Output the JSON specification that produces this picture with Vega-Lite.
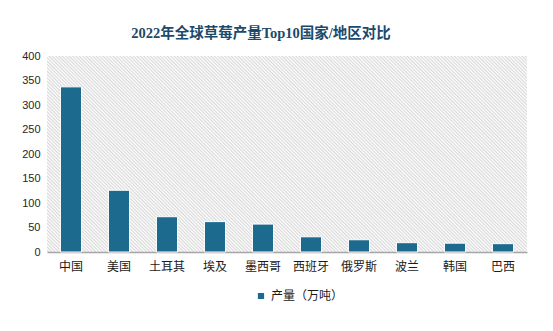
{
  "$schema": "https://vega.github.io/schema/vega-lite/v6.json",
  "autosize": "none",
  "width": 480,
  "height": 196,
  "padding": {"left": 47, "top": 56, "right": 26, "bottom": 79},
  "background": "#ffffff",
  "title": {
    "text": "2022年全球草莓产量Top10国家/地区对比",
    "anchor": "middle",
    "frame": "group",
    "dx": -26,
    "offset": 9,
    "font": "Liberation Serif, Noto Sans CJK SC",
    "fontSize": 14.5,
    "fontWeight": "bold",
    "color": "#1b4a6b"
  },
  "data": {
    "values": [
      {"country": "中国", "output": 337},
      {"country": "美国", "output": 126},
      {"country": "土耳其", "output": 72},
      {"country": "埃及", "output": 62},
      {"country": "墨西哥", "output": 57},
      {"country": "西班牙", "output": 31},
      {"country": "俄罗斯", "output": 25},
      {"country": "波兰", "output": 19},
      {"country": "韩国", "output": 18},
      {"country": "巴西", "output": 17}
    ]
  },
  "mark": {"type": "bar", "stroke": "#ffffff", "strokeWidth": 1},
  "encoding": {
    "x": {
      "field": "country",
      "type": "nominal",
      "sort": null,
      "scale": {"paddingInner": 0.56, "paddingOuter": 0.28},
      "axis": {
        "title": null,
        "labelAngle": 0,
        "ticks": false,
        "labelPadding": 9,
        "domainColor": "#a6a6a6",
        "domainWidth": 1.5,
        "labelFont": "Noto Sans CJK SC",
        "labelFontSize": 12,
        "labelColor": "#1a1a1a"
      }
    },
    "y": {
      "field": "output",
      "type": "quantitative",
      "scale": {"domain": [0, 400]},
      "axis": {
        "title": null,
        "values": [0, 50, 100, 150, 200, 250, 300, 350, 400],
        "grid": false,
        "domain": false,
        "ticks": false,
        "labelPadding": 7,
        "labelFont": "Liberation Sans",
        "labelFontSize": 11,
        "labelColor": "#262626"
      }
    },
    "color": {
      "datum": "产量（万吨）",
      "type": "nominal",
      "scale": {"range": ["#1c6a8e"]},
      "legend": {
        "title": null,
        "orient": "none",
        "legendX": 208,
        "legendY": 234,
        "symbolType": "square",
        "symbolSize": 60,
        "labelFont": "Noto Sans CJK SC",
        "labelFontSize": 12,
        "labelColor": "#1a1a1a"
      }
    }
  },
  "config": {
    "view": {
      "stroke": null,
      "fill": {
        "gradient": "linear",
        "x1": 0, "y1": 1, "x2": 1.207, "y2": 0.5075,
        "stops": [
          {"offset":0,"color":"#fff"},{"offset":0.0025,"color":"#d9d9d9"},{"offset":0.005,"color":"#fff"},{"offset":0.0075,"color":"#d9d9d9"},
          {"offset":0.01,"color":"#fff"},{"offset":0.0125,"color":"#d9d9d9"},{"offset":0.015,"color":"#fff"},{"offset":0.0175,"color":"#d9d9d9"},
          {"offset":0.02,"color":"#fff"},{"offset":0.0225,"color":"#d9d9d9"},{"offset":0.025,"color":"#fff"},{"offset":0.0275,"color":"#d9d9d9"},
          {"offset":0.03,"color":"#fff"},{"offset":0.0325,"color":"#d9d9d9"},{"offset":0.035,"color":"#fff"},{"offset":0.0375,"color":"#d9d9d9"},
          {"offset":0.04,"color":"#fff"},{"offset":0.0425,"color":"#d9d9d9"},{"offset":0.045,"color":"#fff"},{"offset":0.0475,"color":"#d9d9d9"},
          {"offset":0.05,"color":"#fff"},{"offset":0.0525,"color":"#d9d9d9"},{"offset":0.055,"color":"#fff"},{"offset":0.0575,"color":"#d9d9d9"},
          {"offset":0.06,"color":"#fff"},{"offset":0.0625,"color":"#d9d9d9"},{"offset":0.065,"color":"#fff"},{"offset":0.0675,"color":"#d9d9d9"},
          {"offset":0.07,"color":"#fff"},{"offset":0.0725,"color":"#d9d9d9"},{"offset":0.075,"color":"#fff"},{"offset":0.0775,"color":"#d9d9d9"},
          {"offset":0.08,"color":"#fff"},{"offset":0.0825,"color":"#d9d9d9"},{"offset":0.085,"color":"#fff"},{"offset":0.0875,"color":"#d9d9d9"},
          {"offset":0.09,"color":"#fff"},{"offset":0.0925,"color":"#d9d9d9"},{"offset":0.095,"color":"#fff"},{"offset":0.0975,"color":"#d9d9d9"},
          {"offset":0.10,"color":"#fff"},{"offset":0.1025,"color":"#d9d9d9"},{"offset":0.105,"color":"#fff"},{"offset":0.1075,"color":"#d9d9d9"},
          {"offset":0.11,"color":"#fff"},{"offset":0.1125,"color":"#d9d9d9"},{"offset":0.115,"color":"#fff"},{"offset":0.1175,"color":"#d9d9d9"},
          {"offset":0.12,"color":"#fff"},{"offset":0.1225,"color":"#d9d9d9"},{"offset":0.125,"color":"#fff"},{"offset":0.1275,"color":"#d9d9d9"},
          {"offset":0.13,"color":"#fff"},{"offset":0.1325,"color":"#d9d9d9"},{"offset":0.135,"color":"#fff"},{"offset":0.1375,"color":"#d9d9d9"},
          {"offset":0.14,"color":"#fff"},{"offset":0.1425,"color":"#d9d9d9"},{"offset":0.145,"color":"#fff"},{"offset":0.1475,"color":"#d9d9d9"},
          {"offset":0.15,"color":"#fff"},{"offset":0.1525,"color":"#d9d9d9"},{"offset":0.155,"color":"#fff"},{"offset":0.1575,"color":"#d9d9d9"},
          {"offset":0.16,"color":"#fff"},{"offset":0.1625,"color":"#d9d9d9"},{"offset":0.165,"color":"#fff"},{"offset":0.1675,"color":"#d9d9d9"},
          {"offset":0.17,"color":"#fff"},{"offset":0.1725,"color":"#d9d9d9"},{"offset":0.175,"color":"#fff"},{"offset":0.1775,"color":"#d9d9d9"},
          {"offset":0.18,"color":"#fff"},{"offset":0.1825,"color":"#d9d9d9"},{"offset":0.185,"color":"#fff"},{"offset":0.1875,"color":"#d9d9d9"},
          {"offset":0.19,"color":"#fff"},{"offset":0.1925,"color":"#d9d9d9"},{"offset":0.195,"color":"#fff"},{"offset":0.1975,"color":"#d9d9d9"},
          {"offset":0.20,"color":"#fff"},{"offset":0.2025,"color":"#d9d9d9"},{"offset":0.205,"color":"#fff"},{"offset":0.2075,"color":"#d9d9d9"},
          {"offset":0.21,"color":"#fff"},{"offset":0.2125,"color":"#d9d9d9"},{"offset":0.215,"color":"#fff"},{"offset":0.2175,"color":"#d9d9d9"},
          {"offset":0.22,"color":"#fff"},{"offset":0.2225,"color":"#d9d9d9"},{"offset":0.225,"color":"#fff"},{"offset":0.2275,"color":"#d9d9d9"},
          {"offset":0.23,"color":"#fff"},{"offset":0.2325,"color":"#d9d9d9"},{"offset":0.235,"color":"#fff"},{"offset":0.2375,"color":"#d9d9d9"},
          {"offset":0.24,"color":"#fff"},{"offset":0.2425,"color":"#d9d9d9"},{"offset":0.245,"color":"#fff"},{"offset":0.2475,"color":"#d9d9d9"},
          {"offset":0.25,"color":"#fff"},{"offset":0.2525,"color":"#d9d9d9"},{"offset":0.255,"color":"#fff"},{"offset":0.2575,"color":"#d9d9d9"},
          {"offset":0.26,"color":"#fff"},{"offset":0.2625,"color":"#d9d9d9"},{"offset":0.265,"color":"#fff"},{"offset":0.2675,"color":"#d9d9d9"},
          {"offset":0.27,"color":"#fff"},{"offset":0.2725,"color":"#d9d9d9"},{"offset":0.275,"color":"#fff"},{"offset":0.2775,"color":"#d9d9d9"},
          {"offset":0.28,"color":"#fff"},{"offset":0.2825,"color":"#d9d9d9"},{"offset":0.285,"color":"#fff"},{"offset":0.2875,"color":"#d9d9d9"},
          {"offset":0.29,"color":"#fff"},{"offset":0.2925,"color":"#d9d9d9"},{"offset":0.295,"color":"#fff"},{"offset":0.2975,"color":"#d9d9d9"},
          {"offset":0.30,"color":"#fff"},{"offset":0.3025,"color":"#d9d9d9"},{"offset":0.305,"color":"#fff"},{"offset":0.3075,"color":"#d9d9d9"},
          {"offset":0.31,"color":"#fff"},{"offset":0.3125,"color":"#d9d9d9"},{"offset":0.315,"color":"#fff"},{"offset":0.3175,"color":"#d9d9d9"},
          {"offset":0.32,"color":"#fff"},{"offset":0.3225,"color":"#d9d9d9"},{"offset":0.325,"color":"#fff"},{"offset":0.3275,"color":"#d9d9d9"},
          {"offset":0.33,"color":"#fff"},{"offset":0.3325,"color":"#d9d9d9"},{"offset":0.335,"color":"#fff"},{"offset":0.3375,"color":"#d9d9d9"},
          {"offset":0.34,"color":"#fff"},{"offset":0.3425,"color":"#d9d9d9"},{"offset":0.345,"color":"#fff"},{"offset":0.3475,"color":"#d9d9d9"},
          {"offset":0.35,"color":"#fff"},{"offset":0.3525,"color":"#d9d9d9"},{"offset":0.355,"color":"#fff"},{"offset":0.3575,"color":"#d9d9d9"},
          {"offset":0.36,"color":"#fff"},{"offset":0.3625,"color":"#d9d9d9"},{"offset":0.365,"color":"#fff"},{"offset":0.3675,"color":"#d9d9d9"},
          {"offset":0.37,"color":"#fff"},{"offset":0.3725,"color":"#d9d9d9"},{"offset":0.375,"color":"#fff"},{"offset":0.3775,"color":"#d9d9d9"},
          {"offset":0.38,"color":"#fff"},{"offset":0.3825,"color":"#d9d9d9"},{"offset":0.385,"color":"#fff"},{"offset":0.3875,"color":"#d9d9d9"},
          {"offset":0.39,"color":"#fff"},{"offset":0.3925,"color":"#d9d9d9"},{"offset":0.395,"color":"#fff"},{"offset":0.3975,"color":"#d9d9d9"},
          {"offset":0.40,"color":"#fff"},{"offset":0.4025,"color":"#d9d9d9"},{"offset":0.405,"color":"#fff"},{"offset":0.4075,"color":"#d9d9d9"},
          {"offset":0.41,"color":"#fff"},{"offset":0.4125,"color":"#d9d9d9"},{"offset":0.415,"color":"#fff"},{"offset":0.4175,"color":"#d9d9d9"},
          {"offset":0.42,"color":"#fff"},{"offset":0.4225,"color":"#d9d9d9"},{"offset":0.425,"color":"#fff"},{"offset":0.4275,"color":"#d9d9d9"},
          {"offset":0.43,"color":"#fff"},{"offset":0.4325,"color":"#d9d9d9"},{"offset":0.435,"color":"#fff"},{"offset":0.4375,"color":"#d9d9d9"},
          {"offset":0.44,"color":"#fff"},{"offset":0.4425,"color":"#d9d9d9"},{"offset":0.445,"color":"#fff"},{"offset":0.4475,"color":"#d9d9d9"},
          {"offset":0.45,"color":"#fff"},{"offset":0.4525,"color":"#d9d9d9"},{"offset":0.455,"color":"#fff"},{"offset":0.4575,"color":"#d9d9d9"},
          {"offset":0.46,"color":"#fff"},{"offset":0.4625,"color":"#d9d9d9"},{"offset":0.465,"color":"#fff"},{"offset":0.4675,"color":"#d9d9d9"},
          {"offset":0.47,"color":"#fff"},{"offset":0.4725,"color":"#d9d9d9"},{"offset":0.475,"color":"#fff"},{"offset":0.4775,"color":"#d9d9d9"},
          {"offset":0.48,"color":"#fff"},{"offset":0.4825,"color":"#d9d9d9"},{"offset":0.485,"color":"#fff"},{"offset":0.4875,"color":"#d9d9d9"},
          {"offset":0.49,"color":"#fff"},{"offset":0.4925,"color":"#d9d9d9"},{"offset":0.495,"color":"#fff"},{"offset":0.4975,"color":"#d9d9d9"},
          {"offset":0.50,"color":"#fff"},{"offset":0.5025,"color":"#d9d9d9"},{"offset":0.505,"color":"#fff"},{"offset":0.5075,"color":"#d9d9d9"},
          {"offset":0.51,"color":"#fff"},{"offset":0.5125,"color":"#d9d9d9"},{"offset":0.515,"color":"#fff"},{"offset":0.5175,"color":"#d9d9d9"},
          {"offset":0.52,"color":"#fff"},{"offset":0.5225,"color":"#d9d9d9"},{"offset":0.525,"color":"#fff"},{"offset":0.5275,"color":"#d9d9d9"},
          {"offset":0.53,"color":"#fff"},{"offset":0.5325,"color":"#d9d9d9"},{"offset":0.535,"color":"#fff"},{"offset":0.5375,"color":"#d9d9d9"},
          {"offset":0.54,"color":"#fff"},{"offset":0.5425,"color":"#d9d9d9"},{"offset":0.545,"color":"#fff"},{"offset":0.5475,"color":"#d9d9d9"},
          {"offset":0.55,"color":"#fff"},{"offset":0.5525,"color":"#d9d9d9"},{"offset":0.555,"color":"#fff"},{"offset":0.5575,"color":"#d9d9d9"},
          {"offset":0.56,"color":"#fff"},{"offset":0.5625,"color":"#d9d9d9"},{"offset":0.565,"color":"#fff"},{"offset":0.5675,"color":"#d9d9d9"},
          {"offset":0.57,"color":"#fff"},{"offset":0.5725,"color":"#d9d9d9"},{"offset":0.575,"color":"#fff"},{"offset":0.5775,"color":"#d9d9d9"},
          {"offset":0.58,"color":"#fff"},{"offset":0.5825,"color":"#d9d9d9"},{"offset":0.585,"color":"#fff"},{"offset":0.5875,"color":"#d9d9d9"},
          {"offset":0.59,"color":"#fff"},{"offset":0.5925,"color":"#d9d9d9"},{"offset":0.595,"color":"#fff"},{"offset":0.5975,"color":"#d9d9d9"},
          {"offset":0.60,"color":"#fff"},{"offset":0.6025,"color":"#d9d9d9"},{"offset":0.605,"color":"#fff"},{"offset":0.6075,"color":"#d9d9d9"},
          {"offset":0.61,"color":"#fff"},{"offset":0.6125,"color":"#d9d9d9"},{"offset":0.615,"color":"#fff"},{"offset":0.6175,"color":"#d9d9d9"},
          {"offset":0.62,"color":"#fff"},{"offset":0.6225,"color":"#d9d9d9"},{"offset":0.625,"color":"#fff"},{"offset":0.6275,"color":"#d9d9d9"},
          {"offset":0.63,"color":"#fff"},{"offset":0.6325,"color":"#d9d9d9"},{"offset":0.635,"color":"#fff"},{"offset":0.6375,"color":"#d9d9d9"},
          {"offset":0.64,"color":"#fff"},{"offset":0.6425,"color":"#d9d9d9"},{"offset":0.645,"color":"#fff"},{"offset":0.6475,"color":"#d9d9d9"},
          {"offset":0.65,"color":"#fff"},{"offset":0.6525,"color":"#d9d9d9"},{"offset":0.655,"color":"#fff"},{"offset":0.6575,"color":"#d9d9d9"},
          {"offset":0.66,"color":"#fff"},{"offset":0.6625,"color":"#d9d9d9"},{"offset":0.665,"color":"#fff"},{"offset":0.6675,"color":"#d9d9d9"},
          {"offset":0.67,"color":"#fff"},{"offset":0.6725,"color":"#d9d9d9"},{"offset":0.675,"color":"#fff"},{"offset":0.6775,"color":"#d9d9d9"},
          {"offset":0.68,"color":"#fff"},{"offset":0.6825,"color":"#d9d9d9"},{"offset":0.685,"color":"#fff"},{"offset":0.6875,"color":"#d9d9d9"},
          {"offset":0.69,"color":"#fff"},{"offset":0.6925,"color":"#d9d9d9"},{"offset":0.695,"color":"#fff"},{"offset":0.6975,"color":"#d9d9d9"},
          {"offset":0.70,"color":"#fff"},{"offset":0.7025,"color":"#d9d9d9"},{"offset":0.705,"color":"#fff"},{"offset":0.7075,"color":"#d9d9d9"},
          {"offset":0.71,"color":"#fff"},{"offset":0.7125,"color":"#d9d9d9"},{"offset":0.715,"color":"#fff"},{"offset":0.7175,"color":"#d9d9d9"},
          {"offset":0.72,"color":"#fff"},{"offset":0.7225,"color":"#d9d9d9"},{"offset":0.725,"color":"#fff"},{"offset":0.7275,"color":"#d9d9d9"},
          {"offset":0.73,"color":"#fff"},{"offset":0.7325,"color":"#d9d9d9"},{"offset":0.735,"color":"#fff"},{"offset":0.7375,"color":"#d9d9d9"},
          {"offset":0.74,"color":"#fff"},{"offset":0.7425,"color":"#d9d9d9"},{"offset":0.745,"color":"#fff"},{"offset":0.7475,"color":"#d9d9d9"},
          {"offset":0.75,"color":"#fff"},{"offset":0.7525,"color":"#d9d9d9"},{"offset":0.755,"color":"#fff"},{"offset":0.7575,"color":"#d9d9d9"},
          {"offset":0.76,"color":"#fff"},{"offset":0.7625,"color":"#d9d9d9"},{"offset":0.765,"color":"#fff"},{"offset":0.7675,"color":"#d9d9d9"},
          {"offset":0.77,"color":"#fff"},{"offset":0.7725,"color":"#d9d9d9"},{"offset":0.775,"color":"#fff"},{"offset":0.7775,"color":"#d9d9d9"},
          {"offset":0.78,"color":"#fff"},{"offset":0.7825,"color":"#d9d9d9"},{"offset":0.785,"color":"#fff"},{"offset":0.7875,"color":"#d9d9d9"},
          {"offset":0.79,"color":"#fff"},{"offset":0.7925,"color":"#d9d9d9"},{"offset":0.795,"color":"#fff"},{"offset":0.7975,"color":"#d9d9d9"},
          {"offset":0.80,"color":"#fff"},{"offset":0.8025,"color":"#d9d9d9"},{"offset":0.805,"color":"#fff"},{"offset":0.8075,"color":"#d9d9d9"},
          {"offset":0.81,"color":"#fff"},{"offset":0.8125,"color":"#d9d9d9"},{"offset":0.815,"color":"#fff"},{"offset":0.8175,"color":"#d9d9d9"},
          {"offset":0.82,"color":"#fff"},{"offset":0.8225,"color":"#d9d9d9"},{"offset":0.825,"color":"#fff"},{"offset":0.8275,"color":"#d9d9d9"},
          {"offset":0.83,"color":"#fff"},{"offset":0.8325,"color":"#d9d9d9"},{"offset":0.835,"color":"#fff"},{"offset":0.8375,"color":"#d9d9d9"},
          {"offset":0.84,"color":"#fff"},{"offset":0.8425,"color":"#d9d9d9"},{"offset":0.845,"color":"#fff"},{"offset":0.8475,"color":"#d9d9d9"},
          {"offset":0.85,"color":"#fff"},{"offset":0.8525,"color":"#d9d9d9"},{"offset":0.855,"color":"#fff"},{"offset":0.8575,"color":"#d9d9d9"},
          {"offset":0.86,"color":"#fff"},{"offset":0.8625,"color":"#d9d9d9"},{"offset":0.865,"color":"#fff"},{"offset":0.8675,"color":"#d9d9d9"},
          {"offset":0.87,"color":"#fff"},{"offset":0.8725,"color":"#d9d9d9"},{"offset":0.875,"color":"#fff"},{"offset":0.8775,"color":"#d9d9d9"},
          {"offset":0.88,"color":"#fff"},{"offset":0.8825,"color":"#d9d9d9"},{"offset":0.885,"color":"#fff"},{"offset":0.8875,"color":"#d9d9d9"},
          {"offset":0.89,"color":"#fff"},{"offset":0.8925,"color":"#d9d9d9"},{"offset":0.895,"color":"#fff"},{"offset":0.8975,"color":"#d9d9d9"},
          {"offset":0.90,"color":"#fff"},{"offset":0.9025,"color":"#d9d9d9"},{"offset":0.905,"color":"#fff"},{"offset":0.9075,"color":"#d9d9d9"},
          {"offset":0.91,"color":"#fff"},{"offset":0.9125,"color":"#d9d9d9"},{"offset":0.915,"color":"#fff"},{"offset":0.9175,"color":"#d9d9d9"},
          {"offset":0.92,"color":"#fff"},{"offset":0.9225,"color":"#d9d9d9"},{"offset":0.925,"color":"#fff"},{"offset":0.9275,"color":"#d9d9d9"},
          {"offset":0.93,"color":"#fff"},{"offset":0.9325,"color":"#d9d9d9"},{"offset":0.935,"color":"#fff"},{"offset":0.9375,"color":"#d9d9d9"},
          {"offset":0.94,"color":"#fff"},{"offset":0.9425,"color":"#d9d9d9"},{"offset":0.945,"color":"#fff"},{"offset":0.9475,"color":"#d9d9d9"},
          {"offset":0.95,"color":"#fff"},{"offset":0.9525,"color":"#d9d9d9"},{"offset":0.955,"color":"#fff"},{"offset":0.9575,"color":"#d9d9d9"},
          {"offset":0.96,"color":"#fff"},{"offset":0.9625,"color":"#d9d9d9"},{"offset":0.965,"color":"#fff"},{"offset":0.9675,"color":"#d9d9d9"},
          {"offset":0.97,"color":"#fff"},{"offset":0.9725,"color":"#d9d9d9"},{"offset":0.975,"color":"#fff"},{"offset":0.9775,"color":"#d9d9d9"},
          {"offset":0.98,"color":"#fff"},{"offset":0.9825,"color":"#d9d9d9"},{"offset":0.985,"color":"#fff"},{"offset":0.9875,"color":"#d9d9d9"},
          {"offset":0.99,"color":"#fff"},{"offset":0.9925,"color":"#d9d9d9"},{"offset":0.995,"color":"#fff"},{"offset":0.9975,"color":"#d9d9d9"},
          {"offset":1,"color":"#fff"}
        ]
      }
    }
  }
}
